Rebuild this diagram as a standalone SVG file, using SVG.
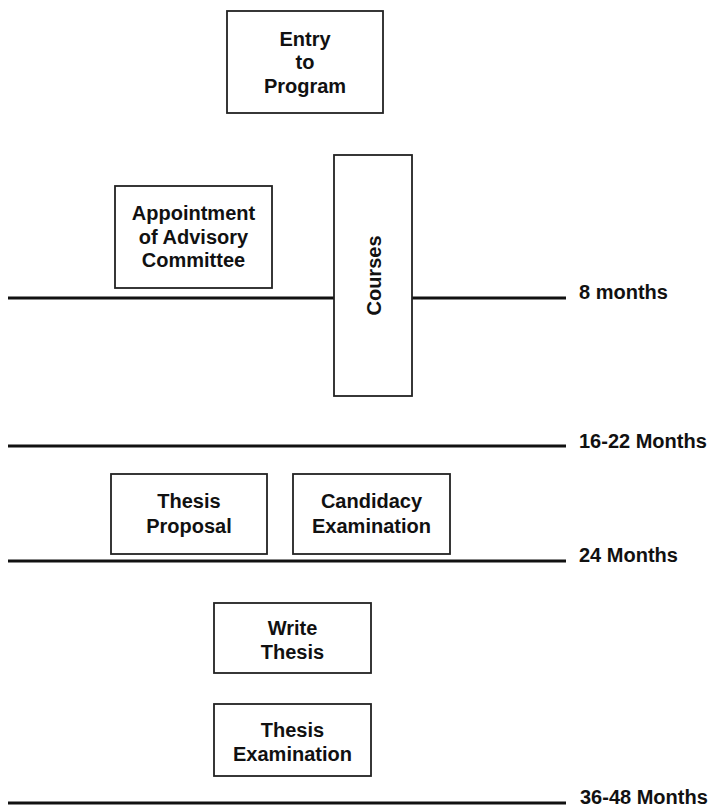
<svg xmlns="http://www.w3.org/2000/svg" width="710" height="807" viewBox="0 0 710 807">
<style>
.box{fill:#fff;stroke:#222;stroke-width:1.8}
.tl{stroke:#111;stroke-width:3;fill:none}
text{font-family:"Liberation Sans",Arial,sans-serif;font-weight:bold;font-size:20px;fill:#111}
.c{text-anchor:middle}
</style>
<rect width="710" height="807" fill="#fff"/>
<g id="timelines">
<line class="tl" x1="8" y1="298" x2="566" y2="298"/>
<line class="tl" x1="8" y1="446" x2="566" y2="446"/>
<line class="tl" x1="8" y1="561" x2="566" y2="561"/>
<line class="tl" x1="8" y1="803" x2="566" y2="803"/>
<text x="579" y="299">8 months</text>
<text x="579" y="448">16-22 Months</text>
<text x="579" y="562">24 Months</text>
<text x="580" y="804">36-48 Months</text>
</g>
<g id="entry">
<rect class="box" x="227" y="11" width="156" height="102"/>
<text class="c" x="305" y="45.5">Entry</text>
<text class="c" x="305" y="69">to</text>
<text class="c" x="305" y="92.5">Program</text>
</g>
<g id="appointment">
<rect class="box" x="115" y="186" width="157" height="102"/>
<text class="c" x="193.5" y="220">Appointment</text>
<text class="c" x="193.5" y="243.5">of Advisory</text>
<text class="c" x="193.5" y="267">Committee</text>
</g>
<g id="courses">
<rect class="box" x="334" y="155" width="78" height="241"/>
<text class="c" transform="translate(380.5,275.5) rotate(-90)">Courses</text>
</g>
<g id="thesis-proposal">
<rect class="box" x="111" y="474" width="156" height="80"/>
<text class="c" x="189" y="508">Thesis</text>
<text class="c" x="189" y="533">Proposal</text>
</g>
<g id="candidacy">
<rect class="box" x="293" y="474" width="157" height="80"/>
<text class="c" x="371.5" y="508">Candidacy</text>
<text class="c" x="371.5" y="533">Examination</text>
</g>
<g id="write-thesis">
<rect class="box" x="214" y="603" width="157" height="70"/>
<text class="c" x="292.5" y="635">Write</text>
<text class="c" x="292.5" y="659">Thesis</text>
</g>
<g id="thesis-examination">
<rect class="box" x="214" y="704" width="157" height="72"/>
<text class="c" x="292.5" y="737">Thesis</text>
<text class="c" x="292.5" y="761">Examination</text>
</g>
</svg>
